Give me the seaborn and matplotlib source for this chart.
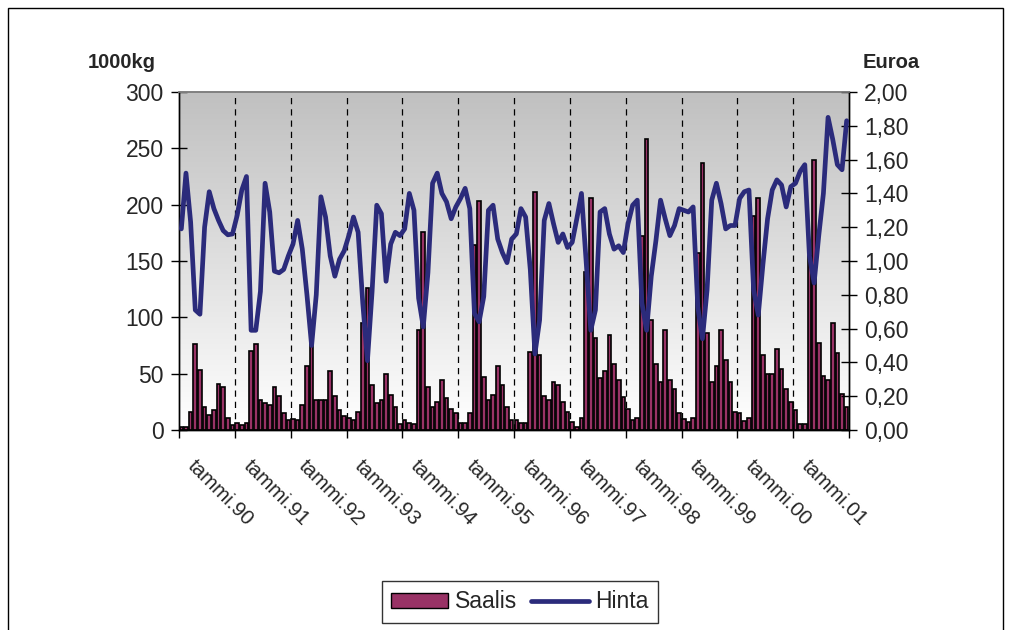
import numpy as np
import pandas as pd
import matplotlib
matplotlib.use("Agg")
import matplotlib.pyplot as plt
import seaborn as sns
from matplotlib.colors import LinearSegmentedColormap
from matplotlib.patches import Patch, Rectangle
from matplotlib.lines import Line2D

# ---- data (monthly, Jan 1990 - Dec 2001) ----
year_labels = ["tammi.90", "tammi.91", "tammi.92", "tammi.93", "tammi.94", "tammi.95",
               "tammi.96", "tammi.97", "tammi.98", "tammi.99", "tammi.00", "tammi.01"]

saalis_1990 = [3, 3, 16, 76, 53, 20, 13, 18, 41, 38, 11, 4]
saalis_1991 = [6, 4, 6, 70, 76, 27, 24, 22, 38, 30, 15, 9]
saalis_1992 = [10, 9, 22, 57, 76, 27, 27, 27, 52, 30, 18, 12]
saalis_1993 = [11, 9, 16, 95, 126, 40, 24, 27, 50, 31, 20, 5]
saalis_1994 = [9, 6, 5, 89, 176, 38, 20, 25, 44, 28, 19, 15]
saalis_1995 = [6, 6, 15, 164, 203, 47, 27, 31, 57, 40, 20, 9]
saalis_1996 = [9, 6, 6, 69, 211, 67, 30, 27, 43, 40, 25, 16]
saalis_1997 = [7, 3, 11, 140, 206, 82, 46, 52, 84, 59, 44, 29]
saalis_1998 = [19, 9, 11, 172, 258, 98, 59, 43, 89, 44, 36, 15]
saalis_1999 = [10, 7, 11, 157, 237, 86, 43, 57, 89, 62, 43, 16]
saalis_2000 = [15, 8, 11, 190, 206, 67, 50, 50, 72, 54, 36, 25]
saalis_2001 = [18, 5, 5, 154, 240, 77, 48, 44, 95, 68, 32, 20]

hinta_1990 = [1.19, 1.52, 1.23, 0.71, 0.685, 1.20, 1.41, 1.31, 1.24, 1.18, 1.155, 1.16]
hinta_1991 = [1.27, 1.42, 1.50, 0.59, 0.59, 0.82, 1.46, 1.29, 0.94, 0.93, 0.95, 1.03]
hinta_1992 = [1.10, 1.24, 1.07, 0.80, 0.50, 0.80, 1.38, 1.26, 1.03, 0.91, 1.01, 1.06]
hinta_1993 = [1.15, 1.26, 1.17, 0.75, 0.41, 0.82, 1.33, 1.28, 0.88, 1.10, 1.17, 1.15]
hinta_1994 = [1.19, 1.40, 1.30, 0.78, 0.61, 0.93, 1.46, 1.52, 1.40, 1.35, 1.25, 1.32]
hinta_1995 = [1.37, 1.43, 1.31, 0.69, 0.64, 0.79, 1.30, 1.33, 1.13, 1.05, 0.99, 1.13]
hinta_1996 = [1.16, 1.31, 1.26, 0.95, 0.45, 0.65, 1.24, 1.34, 1.22, 1.11, 1.16, 1.08]
hinta_1997 = [1.11, 1.25, 1.40, 1.00, 0.59, 0.71, 1.29, 1.31, 1.16, 1.07, 1.09, 1.05]
hinta_1998 = [1.22, 1.33, 1.36, 0.75, 0.59, 0.91, 1.12, 1.36, 1.25, 1.15, 1.21, 1.31]
hinta_1999 = [1.30, 1.29, 1.32, 0.73, 0.54, 0.83, 1.36, 1.46, 1.34, 1.19, 1.21, 1.21]
hinta_2000 = [1.37, 1.41, 1.42, 0.83, 0.68, 0.98, 1.25, 1.42, 1.48, 1.45, 1.32, 1.44]
hinta_2001 = [1.46, 1.53, 1.57, 1.03, 0.87, 1.15, 1.40, 1.85, 1.72, 1.57, 1.54, 1.83]

saalis = (saalis_1990 + saalis_1991 + saalis_1992 + saalis_1993 + saalis_1994 + saalis_1995 +
          saalis_1996 + saalis_1997 + saalis_1998 + saalis_1999 + saalis_2000 + saalis_2001)
hinta = (hinta_1990 + hinta_1991 + hinta_1992 + hinta_1993 + hinta_1994 + hinta_1995 +
         hinta_1996 + hinta_1997 + hinta_1998 + hinta_1999 + hinta_2000 + hinta_2001)

left_ticks = [0, 50, 100, 150, 200, 250, 300]
right_ticks = [0.0, 0.2, 0.4, 0.6, 0.8, 1.0, 1.2, 1.4, 1.6, 1.8, 2.0]

BAR_COLOR = "#993366"
LINE_COLOR = "#2B2B7B"
FS = 16.5
FS_X = 14.8

sns.set_theme(style="white")
plt.rcParams['font.family'] = ['Liberation Sans', 'DejaVu Sans']

n = len(saalis)
df = pd.DataFrame({"kk": np.arange(n), "Saalis": saalis, "Hinta": hinta})

W, H = 1009, 630
fig = plt.figure(figsize=(W / 100, H / 100), dpi=100)
fig.patch.set_facecolor("white")
ax = fig.add_axes([179 / W, 1 - 430 / H, 670 / W, 338 / H])

# gradient background of the plot area
cmap = LinearSegmentedColormap.from_list("bg", ["#c0c0c0", "#ffffff"])
grad = np.linspace(0, 1, 256).reshape(-1, 1)
ax.imshow(grad, extent=[0, 1, 0, 1], transform=ax.transAxes, aspect="auto",
          cmap=cmap, origin="upper", zorder=0)

sns.barplot(data=df, x="kk", y="Saalis", color=BAR_COLOR, saturation=1,
            edgecolor="black", linewidth=1.2, width=0.78, errorbar=None,
            ax=ax, zorder=2)

ax.set_xlim(-0.5, n - 0.5)
ax.set_ylim(0, 300)

# dashed year separators
for b in range(12, n, 12):
    ax.axvline(b - 0.5, color="black", lw=0.9, ls=(0, (5, 4)), zorder=1)

# x ticks: marks at year boundaries, labels per year
ax.set_xticks([b - 0.5 for b in range(0, n + 1, 12)])
ax.set_xticklabels([])
ax.set_xticks([b + 3.4 for b in range(0, n, 12)], minor=True)
ax.set_xticklabels(year_labels, minor=True, rotation=-45, ha="left", va="top",
                   rotation_mode="anchor", fontsize=FS_X)
ax.tick_params(axis="x", which="major", bottom=True, direction="out", length=6,
               width=1, color="black")
ax.tick_params(axis="x", which="minor", bottom=True, length=0, pad=19)

ax.set_yticks(left_ticks)
ax.set_yticklabels([str(v) for v in left_ticks], fontsize=FS)
ax.tick_params(axis="y", left=True, direction="inout", length=12, width=1,
               color="black", pad=5)
ax.set_xlabel("")
ax.set_ylabel("")

# price line on the secondary axis
ax2 = ax.twinx()
sns.lineplot(data=df, x="kk", y="Hinta", ax=ax2, color=LINE_COLOR, linewidth=3.4,
             zorder=3)
ax2.set_ylim(0, 2)
ax2.set_xlim(-0.5, n - 0.5)
ax2.set_yticks(right_ticks)
ax2.set_yticklabels([f"{v:.2f}".replace(".", ",") for v in right_ticks], fontsize=FS)
ax2.tick_params(axis="y", right=True, direction="inout", length=12, width=1,
                color="black", pad=5)
ax2.set_ylabel("")
ax2.set_xlabel("")

for a in (ax, ax2):
    for s in ("left", "right", "bottom"):
        a.spines[s].set_color("black")
        a.spines[s].set_linewidth(1)
    a.spines["top"].set_color("#808080")
    a.spines["top"].set_linewidth(1.2)

fig.text(122 / W, 1 - 62 / H, "1000kg", ha="center", va="center",
         fontsize=14.5, fontweight="bold")
fig.text(891 / W, 1 - 62 / H, "Euroa", ha="center", va="center",
         fontsize=14.5, fontweight="bold")

handles = [Patch(facecolor=BAR_COLOR, edgecolor="black", linewidth=1),
           Line2D([], [], color=LINE_COLOR, linewidth=3.4)]
leg = fig.legend(handles, ["Saalis", "Hinta"], loc="center",
                 bbox_to_anchor=(520 / W, 1 - 602 / H), ncol=2, fontsize=FS,
                 frameon=True, fancybox=False, shadow=False,
                 handlelength=2.5, handleheight=0.65, handletextpad=0.3,
                 columnspacing=0.6, borderpad=0.4)
leg.get_frame().set_edgecolor("black")
leg.get_frame().set_linewidth(1)

# outer chart frame
fig.patches.append(Rectangle((8 / W, -0.05), (1003 - 8) / W, 1.05 - 8 / H,
                             transform=fig.transFigure, fill=False,
                             edgecolor="black", linewidth=1, zorder=0))

fig.savefig("out.png", dpi=100)
